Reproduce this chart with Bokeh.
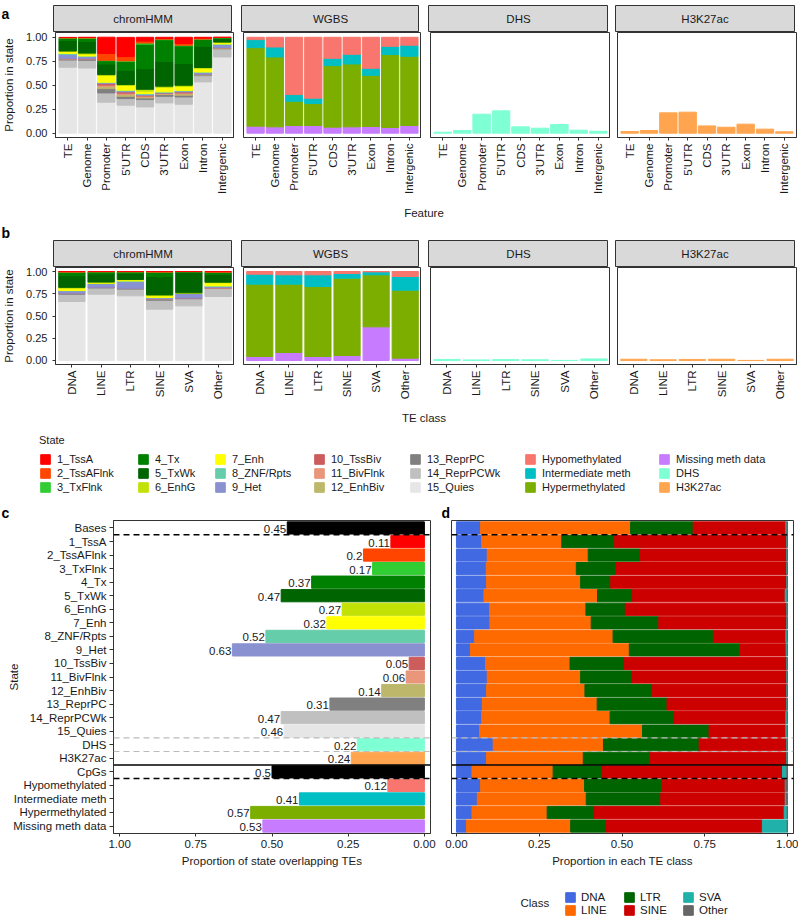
import math
from bokeh.plotting import figure
from bokeh.models import (ColumnDataSource, FactorRange, Range1d, FixedTicker,
                          NumeralTickFormatter, Span, Label, Legend, LegendItem)
from bokeh.layouts import column, row
from bokeh.embed import file_html
from bokeh.resources import INLINE
from bokeh.core.properties import value

FONT = "Liberation Sans"
INK = "#1A1A1A"
BORDER = "#333333"

# ---------------------------------------------------------------- data
STATES = ["1_TssA", "2_TssAFlnk", "3_TxFlnk", "4_Tx", "5_TxWk", "6_EnhG", "7_Enh",
          "8_ZNF/Rpts", "9_Het", "10_TssBiv", "11_BivFlnk", "12_EnhBiv", "13_ReprPC",
          "14_ReprPCWk", "15_Quies"]
STATE_COLORS = ["#FF0000", "#FF4500", "#32CD32", "#008000", "#006400", "#C2E105", "#FFFF00",
                "#66CDAA", "#8A91D0", "#CD5C5C", "#E9967A", "#BDB76B", "#808080",
                "#C0C0C0", "#E6E6E6"]
METH = ["Hypomethylated", "Intermediate meth", "Hypermethylated", "Missing meth data"]
METH_COLORS = ["#F8766D", "#00BFC4", "#7CAE00", "#C77CFF"]
DHS_COLOR = "#7FFFD4"
H3K27AC_COLOR = "#FFA54F"

# panel a: genomic features
FEATURES = ["TE", "Genome", "Promoter", "5'UTR", "CDS", "3'UTR", "Exon", "Intron", "Intergenic"]
# chromHMM proportions per feature (in STATES order)
A_CHROM_TE = [0.002, 0.003, 0.002, 0.025, 0.11, 0.005, 0.02, 0.01, 0.045, 0.001, 0.001, 0.002, 0.01, 0.075, 0.688]
A_CHROM_GENOME = [0.002, 0.005, 0.003, 0.035, 0.12, 0.01, 0.02, 0.005, 0.025, 0.002, 0.002, 0.003, 0.008, 0.08, 0.68]
A_CHROM_PROMOTER = [0.17, 0.07, 0.005, 0.035, 0.11, 0.01, 0.07, 0.004, 0.01, 0.015, 0.015, 0.022, 0.045, 0.097, 0.323]
A_CHROM_5UTR = [0.2, 0.045, 0.007, 0.09, 0.15, 0.009, 0.05, 0.006, 0.012, 0.013, 0.014, 0.018, 0.024, 0.069, 0.292]
A_CHROM_CDS = [0.04, 0.02, 0.012, 0.255, 0.215, 0.02, 0.025, 0.007, 0.01, 0.009, 0.009, 0.01, 0.018, 0.076, 0.274]
A_CHROM_3UTR = [0.012, 0.008, 0.005, 0.225, 0.26, 0.014, 0.045, 0.005, 0.008, 0.004, 0.005, 0.006, 0.018, 0.069, 0.316]
A_CHROM_EXON = [0.065, 0.018, 0.006, 0.185, 0.226, 0.014, 0.04, 0.006, 0.01, 0.01, 0.01, 0.014, 0.018, 0.076, 0.302]
A_CHROM_INTRON = [0.009, 0.01, 0.004, 0.07, 0.222, 0.012, 0.035, 0.005, 0.018, 0.002, 0.002, 0.003, 0.008, 0.065, 0.535]
A_CHROM_INTERGENIC = [0.001, 0.002, 0.002, 0.01, 0.035, 0.005, 0.015, 0.005, 0.032, 0.001, 0.001, 0.002, 0.009, 0.085, 0.795]
A_HYPO = [0.024, 0.101, 0.597, 0.635, 0.219, 0.177, 0.323, 0.094, 0.083]
A_INTER = [0.084, 0.104, 0.07, 0.056, 0.076, 0.101, 0.073, 0.086, 0.115]
A_HYPER = [0.819, 0.729, 0.253, 0.229, 0.642, 0.656, 0.534, 0.761, 0.722]
A_MISSING = [0.073, 0.066, 0.08, 0.08, 0.063, 0.066, 0.07, 0.059, 0.08]
A_DHS = [0.01, 0.028, 0.198, 0.233, 0.066, 0.052, 0.09, 0.031, 0.02]
A_H3K27AC = [0.017, 0.028, 0.212, 0.219, 0.076, 0.062, 0.094, 0.042, 0.014]

# panel b: TE classes
TE_CLASSES = ["DNA", "LINE", "LTR", "SINE", "SVA", "Other"]
B_CHROM_DNA = [0.002, 0.003, 0.003, 0.04, 0.13, 0.01, 0.025, 0.005, 0.025, 0.001, 0.001, 0.002, 0.008, 0.082, 0.663]
B_CHROM_LINE = [0.001, 0.001, 0.001, 0.025, 0.09, 0.01, 0.006, 0.003, 0.04, 0.001, 0.001, 0.001, 0.005, 0.07, 0.745]
B_CHROM_LTR = [0.001, 0.001, 0.002, 0.015, 0.07, 0.005, 0.012, 0.008, 0.075, 0.001, 0.001, 0.001, 0.006, 0.075, 0.727]
B_CHROM_SINE = [0.002, 0.003, 0.003, 0.045, 0.21, 0.008, 0.02, 0.005, 0.012, 0.002, 0.002, 0.003, 0.008, 0.1, 0.577]
B_CHROM_SVA = [0.0005, 0.0005, 0.001, 0.008, 0.23, 0.002, 0.002, 0.003, 0.052, 0.001, 0.001, 0.001, 0.004, 0.08, 0.614]
B_CHROM_OTHER = [0.003, 0.003, 0.004, 0.02, 0.09, 0.007, 0.035, 0.005, 0.015, 0.001, 0.001, 0.002, 0.005, 0.09, 0.719]
B_HYPO = [0.03, 0.037, 0.037, 0.022, 0.004, 0.056]
B_INTER = [0.112, 0.105, 0.132, 0.053, 0.033, 0.154]
B_HYPER = [0.813, 0.768, 0.786, 0.869, 0.585, 0.764]
B_MISSING = [0.045, 0.09, 0.045, 0.056, 0.378, 0.026]
B_DHS = [0.012, 0.006, 0.01, 0.008, 0.001, 0.018]
B_H3K27AC = [0.014, 0.008, 0.012, 0.014, 0.001, 0.014]

# panel c: proportion of each state overlapping TEs
C_ROWS = ["Bases"] + STATES + ["DHS", "H3K27ac", "CpGs"] + METH
C_VALUES = [0.45, 0.11, 0.2, 0.17, 0.37, 0.47, 0.27, 0.32, 0.52, 0.63, 0.05, 0.06, 0.14,
            0.31, 0.47, 0.46, 0.22, 0.24, 0.5, 0.12, 0.41, 0.57, 0.53]
C_COLORS = ["#000000"] + STATE_COLORS + [DHS_COLOR, H3K27AC_COLOR, "#000000"] + METH_COLORS

# panel d: TE class composition of each row of panel c
D_CLASSES = ["DNA", "LINE", "LTR", "SINE", "SVA", "Other"]
D_COLORS = ["#4169E1", "#FF6A00", "#006400", "#CD0000", "#20B2AA", "#666666"]
D_DNA = [0.073, 0.076, 0.093, 0.09, 0.091, 0.083, 0.1, 0.101, 0.055, 0.042, 0.088, 0.093,
         0.091, 0.078, 0.076, 0.07, 0.111, 0.091, 0.047, 0.073, 0.063, 0.047, 0.03]
D_LINE = [0.453, 0.242, 0.305, 0.272, 0.284, 0.343, 0.291, 0.306, 0.418, 0.48, 0.255, 0.282,
          0.297, 0.347, 0.388, 0.492, 0.333, 0.292, 0.245, 0.314, 0.329, 0.227, 0.315]
D_LTR = [0.189, 0.16, 0.158, 0.119, 0.091, 0.106, 0.119, 0.204, 0.303, 0.334, 0.164, 0.154,
         0.203, 0.211, 0.193, 0.201, 0.289, 0.201, 0.149, 0.233, 0.225, 0.143, 0.108]
D_SINE = [0.28, 0.52, 0.442, 0.517, 0.532, 0.461, 0.488, 0.387, 0.219, 0.14, 0.491, 0.469,
          0.407, 0.362, 0.338, 0.232, 0.265, 0.414, 0.544, 0.373, 0.376, 0.573, 0.471]
D_SVA = [0.003, 0.001, 0.001, 0.001, 0.001, 0.006, 0.001, 0.001, 0.004, 0.003, 0.001, 0.001,
         0.001, 0.001, 0.004, 0.004, 0.001, 0.001, 0.013, 0.002, 0.004, 0.009, 0.075]
D_OTHER = [0.002, 0.001, 0.001, 0.001, 0.001, 0.001, 0.001, 0.001, 0.001, 0.001, 0.001, 0.001,
           0.001, 0.001, 0.001, 0.001, 0.001, 0.001, 0.002, 0.005, 0.003, 0.001, 0.001]

Y_TICKS = [0, 0.25, 0.5, 0.75, 1]


# ---------------------------------------------------------------- helpers
def style_axes(p):
    for ax in p.axis:
        ax.axis_line_color = BORDER
        ax.major_tick_line_color = BORDER
        ax.major_tick_out = 3
        ax.major_tick_in = 0
        ax.minor_tick_line_color = None
        ax.major_label_text_font = FONT
        ax.major_label_text_font_size = "11.5px"
        ax.major_label_text_color = INK
        ax.axis_label_text_font = FONT
        ax.axis_label_text_font_size = "11.5px"
        ax.axis_label_text_font_style = "normal"
        ax.axis_label_text_color = INK
        ax.major_label_standoff = 3
        ax.axis_label_standoff = 4


def blank_fig(fw, fh, left=0, right=0, top=0, bottom=0, fill="white", outline=None):
    p = figure(x_range=Range1d(0, 1), y_range=Range1d(0, 1), x_axis_type=None, y_axis_type=None,
               frame_width=fw, frame_height=fh, min_border_left=left, min_border_right=right,
               min_border_top=top, min_border_bottom=bottom,
               toolbar_location=None, output_backend="svg")
    p.grid.visible = False
    p.background_fill_color = fill
    p.border_fill_color = "white"
    p.outline_line_color = outline
    return p


def add_text(p, text, x, y, align="left", baseline="top", size="11.5px", style="normal", angle=0):
    p.add_layout(Label(x=x, y=y, x_units="screen", y_units="screen", text=text, angle=angle,
                       text_font=FONT, text_font_size=size, text_font_style=style,
                       text_color=INK if style == "normal" else "black",
                       text_baseline=baseline, text_align=align))


def strip(label, left, fw, right, h=27, top=5):
    p = blank_fig(fw, h, left=left, right=right, top=top, fill="#D9D9D9", outline=BORDER)
    p.add_layout(Label(x=0.5, y=0.5, text=label, text_align="center", text_baseline="middle",
                       text_font=FONT, text_font_size="11.5px", text_color=INK))
    return p


def facet(kind, cats, src, left, fw, right, fh, bottom, pad, yr, show_y):
    p = figure(x_range=FactorRange(factors=cats, range_padding=pad, range_padding_units="absolute"),
               y_range=Range1d(*yr), frame_width=fw, frame_height=fh,
               min_border_left=left, min_border_right=right, min_border_top=0,
               min_border_bottom=bottom, toolbar_location=None, output_backend="svg")
    p.grid.visible = False
    p.outline_line_color = BORDER
    if kind == "chromHMM":
        p.vbar_stack(list(reversed(STATES)), x="cat", width=0.9,
                     color=list(reversed(STATE_COLORS)), source=src)
    elif kind == "WGBS":
        p.vbar_stack(list(reversed(METH)), x="cat", width=0.9,
                     color=list(reversed(METH_COLORS)), source=src)
    elif kind == "DHS":
        p.vbar(x="cat", top="DHS", width=0.9, color=DHS_COLOR, source=src)
    else:
        p.vbar(x="cat", top="H3K27ac", width=0.9, color=H3K27AC_COLOR, source=src)
    style_axes(p)
    p.xaxis.major_label_orientation = math.pi / 2
    if show_y:
        p.yaxis.ticker = FixedTicker(ticks=Y_TICKS)
        p.yaxis.formatter = NumeralTickFormatter(format="0.00")
        p.yaxis.axis_label = "Proportion in state"
        p.yaxis.major_label_text_font_size = "11px"
        p.yaxis.major_label_standoff = 5
        p.yaxis.axis_label_standoff = 8
    else:
        p.yaxis.visible = False
    return p


def build_source(cats, chrom_rows, hypo, inter, hyper, missing, dhs, h3):
    data = {"cat": cats}
    for i, s in enumerate(STATES):
        data[s] = [r[i] for r in chrom_rows]
    for name, vals in zip(METH, [hypo, inter, hyper, missing]):
        data[name] = vals
    data["DHS"] = dhs
    data["H3K27ac"] = h3
    return ColumnDataSource(data)


def swatch_renderer(p, colors):
    """Hidden glyph whose per-row colours feed the legend swatches."""
    src = ColumnDataSource(dict(idx=list(range(len(colors))), color=colors))
    return p.vbar(x="idx", top="idx", width=0.5, color="color", source=src, visible=False)


LEG_STYLE = dict(glyph_width=12, glyph_height=12, label_height=12, padding=0,
                 margin=0, border_line_color=None, background_fill_alpha=0,
                 label_text_font=FONT, label_text_color=INK, title_text_font=FONT,
                 title_text_font_style="normal", title_text_color=INK)

KINDS = ["chromHMM", "WGBS", "DHS", "H3K27ac"]
Y_AXIS_W = 53
LEFTS = [0, 9, 9, 7]
FWS = [179, 178, 180, 179]
RIGHTS = [0, 0, 0, 4]
TOTAL_W = 798
CENTER_X = (Y_AXIS_W + TOTAL_W - RIGHTS[-1]) / 2

# ---------------------------------------------------------------- panel a
src_a = build_source(FEATURES,
                     [A_CHROM_TE, A_CHROM_GENOME, A_CHROM_PROMOTER, A_CHROM_5UTR, A_CHROM_CDS,
                      A_CHROM_3UTR, A_CHROM_EXON, A_CHROM_INTRON, A_CHROM_INTERGENIC],
                     A_HYPO, A_INTER, A_HYPER, A_MISSING, A_DHS, A_H3K27AC)
letter_a = blank_fig(Y_AXIS_W, 32)
add_text(letter_a, "a", 1, 32, size="14px", style="bold")
strips_a = [letter_a] + [strip(k, l, w, r) for k, l, w, r in zip(KINDS, LEFTS, FWS, RIGHTS)]
lefts_f = [Y_AXIS_W] + LEFTS[1:]
figs_a = [facet(k, FEATURES, src_a, l, w, r, 105, 66, 0.13, (-0.045, 1.05), i == 0)
          for i, (k, l, w, r) in enumerate(zip(KINDS, lefts_f, FWS, RIGHTS))]

feature_fig = blank_fig(TOTAL_W, 18)
add_text(feature_fig, "Feature", CENTER_X, 9, align="center", baseline="middle")
spacer_b = blank_fig(TOTAL_W, 19)
add_text(spacer_b, "b", 1, 0, baseline="bottom", size="14px", style="bold")

# ---------------------------------------------------------------- panel b
src_b = build_source(TE_CLASSES,
                     [B_CHROM_DNA, B_CHROM_LINE, B_CHROM_LTR, B_CHROM_SINE, B_CHROM_SVA, B_CHROM_OTHER],
                     B_HYPO, B_INTER, B_HYPER, B_MISSING, B_DHS, B_H3K27AC)
letter_b = blank_fig(Y_AXIS_W, 27)
strips_b = [letter_b] + [strip(k, l, w, r, top=0) for k, l, w, r in zip(KINDS, LEFTS, FWS, RIGHTS)]
figs_b = [facet(k, TE_CLASSES, src_b, l, w, r, 97, 44, 0.06, (-0.045, 1.045), i == 0)
          for i, (k, l, w, r) in enumerate(zip(KINDS, lefts_f, FWS, RIGHTS))]

teclass_fig = blank_fig(TOTAL_W, 18)
add_text(teclass_fig, "TE class", CENTER_X, 9, align="center", baseline="middle")

# ---------------------------------------------------------------- state legend
lg = blank_fig(TOTAL_W, 76)
LEG_NAMES = STATES + METH + ["DHS", "H3K27ac"]
LEG_COLORS = STATE_COLORS + METH_COLORS + [DHS_COLOR, H3K27AC_COLOR]
r_state = swatch_renderer(lg, LEG_COLORS)
LEG_X = [39, 137, 214, 313, 409, 524, 658]
for j, lx in enumerate(LEG_X):
    items = [LegendItem(label=LEG_NAMES[i], renderers=[r_state], index=i)
             for i in range(3 * j, 3 * j + 3)]
    leg = Legend(items=items, location=(lx, 9), orientation="vertical", label_standoff=6,
                 spacing=2, label_text_font_size="11px", **LEG_STYLE)
    if j == 0:
        leg.title = "State"
        leg.title_text_font_size = "11px"
        leg.title_standoff = 7
    lg.add_layout(leg)

letters_cd = blank_fig(TOTAL_W, 18)
add_text(letters_cd, "c", 1, 0, baseline="bottom", size="14px", style="bold")
add_text(letters_cd, "d", 441, 0, baseline="bottom", size="14px", style="bold")

# ---------------------------------------------------------------- panel c
yr = FactorRange(factors=list(reversed(C_ROWS)), range_padding=0.05, range_padding_units="absolute")
fc = figure(x_range=Range1d(1.02, -0.02), y_range=yr, frame_width=317, frame_height=313,
            min_border_left=113, min_border_right=11, min_border_top=0, min_border_bottom=40,
            toolbar_location=None, output_backend="svg")
fc.grid.visible = False
fc.outline_line_color = BORDER
src_c = ColumnDataSource(dict(row=C_ROWS, value=C_VALUES, color=C_COLORS,
                              label=[f"{round(v, 2):g}" for v in C_VALUES]))
fc.hbar(y="row", left=0, right="value", height=0.9, color="color", source=src_c)
fc.text(x="value", y="row", text="label", text_align="right", text_baseline="middle",
        x_offset=-1, y_offset=1, text_font=value(FONT), text_font_size="11.5px",
        text_color=INK, source=src_c)
style_axes(fc)
fc.yaxis.major_tick_out = 4
fc.yaxis.axis_label = "State"
fc.yaxis.axis_label_standoff = -10
fc.xaxis.ticker = FixedTicker(ticks=Y_TICKS)
fc.xaxis.formatter = NumeralTickFormatter(format="0.00")
fc.xaxis.axis_label = "Proportion of state overlapping TEs"

# ---------------------------------------------------------------- panel d
fd = figure(x_range=Range1d(-0.015, 1.018), y_range=yr, frame_width=342, frame_height=313,
            min_border_left=10, min_border_right=5, min_border_top=0, min_border_bottom=40,
            toolbar_location=None, output_backend="svg")
fd.grid.visible = False
fd.outline_line_color = BORDER
src_d = ColumnDataSource(dict(row=C_ROWS, DNA=D_DNA, LINE=D_LINE, LTR=D_LTR, SINE=D_SINE,
                              SVA=D_SVA, Other=D_OTHER))
fd.hbar_stack(D_CLASSES, y="row", height=0.9, color=D_COLORS, source=src_d)
style_axes(fd)
fd.yaxis.visible = False
fd.xaxis.ticker = FixedTicker(ticks=Y_TICKS)
fd.xaxis.formatter = NumeralTickFormatter(format="0.00")
fd.xaxis.axis_label = "Proportion in each TE class"

# boundary lines between row groups (synthetic category coordinates)
n_rows = len(C_ROWS)
BOUNDARIES = [("1_TssA", "#000000", "6 4", 1.5), ("DHS", "#BBBBBB", "6 4", 1.2),
              ("H3K27ac", "#BBBBBB", "6 4", 1.2), ("CpGs", "#000000", "solid", 1.5),
              ("Hypomethylated", "#000000", "6 4", 1.5)]
for p in (fc, fd):
    for name, col, dash, lw in BOUNDARIES:
        p.add_layout(Span(location=n_rows - C_ROWS.index(name), dimension="width",
                          line_color=col, line_dash=dash, line_width=lw))

# ---------------------------------------------------------------- class legend
cl = blank_fig(TOTAL_W, 44)
r_class = swatch_renderer(cl, D_COLORS)
class_leg = Legend(items=[LegendItem(label=c, renderers=[r_class], index=i)
                          for i, c in enumerate(D_CLASSES)],
                   orientation="vertical", nrows=2, spacing=1,
                   location=(564, 1), label_width=41, label_standoff=5,
                   label_text_font_size="11.5px", **LEG_STYLE)
cl.add_layout(class_leg)
add_text(cl, "Class", 520, 14.5, baseline="middle")

layout = column(row(*strips_a), row(*figs_a), feature_fig, spacer_b,
                row(*strips_b), row(*figs_b), teclass_fig, lg, letters_cd,
                row(fc, fd), cl)

open("out.html", "w").write(file_html(layout, INLINE))
